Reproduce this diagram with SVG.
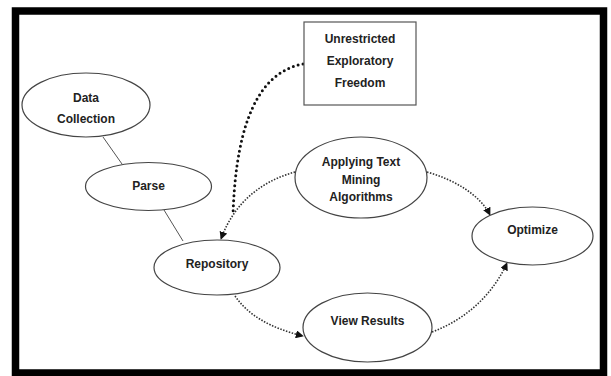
<svg xmlns="http://www.w3.org/2000/svg" width="611" height="376" viewBox="0 0 611 376">
<style>
.node ellipse{fill:#fff;stroke:#444;stroke-width:1.2}
.node rect{fill:#fff;stroke:#555;stroke-width:1.2}
text{font-family:"Liberation Sans",Arial,sans-serif;font-weight:bold;fill:#222;text-anchor:middle;font-size:12px}
.solid{fill:none;stroke:#555;stroke-width:1}
.dot{fill:none;stroke:#333;stroke-width:1.6;stroke-dasharray:1.5 1.5}
.thick{fill:none;stroke:#111;stroke-width:3;stroke-dasharray:0 5;stroke-linecap:round}
</style>
<defs>
<marker id="ah" viewBox="0 0 10 10" refX="9" refY="5" markerWidth="8" markerHeight="8" markerUnits="userSpaceOnUse" orient="auto">
<path d="M0,0 L10,5 L0,10 z" fill="#111"/>
</marker>
</defs>
<rect x="15.5" y="11" width="588" height="362" fill="#fff" stroke="#000" stroke-width="7.5"/>
<g id="connectors">
<line class="solid" x1="103" y1="137" x2="122" y2="164"/>
<line class="solid" x1="164" y1="210" x2="183" y2="241"/>
<path class="thick" d="M303,64 C260,72 236,120 233,215"/>
<path class="dot" d="M295,172 C265,180 235,200 221,239" marker-end="url(#ah)"/>
<path class="dot" d="M427,172 C455,180 480,195 490,215" marker-end="url(#ah)"/>
<path class="dot" d="M432,332 C470,318 495,290 507,263" marker-end="url(#ah)"/>
<path class="dot" d="M235,296 C248,315 270,328 303,336" marker-end="url(#ah)"/>
</g>
<g id="freedom" class="node">
<rect x="304" y="22" width="112" height="83"/>
<text x="360" y="43" font-size="12.5">Unrestricted</text>
<text x="360" y="65" font-size="12.5">Exploratory</text>
<text x="360" y="87" font-size="12.5">Freedom</text>
</g>
<g id="data-collection" class="node">
<ellipse cx="86" cy="105" rx="64" ry="32"/>
<text x="86" y="102">Data</text>
<text x="86" y="123">Collection</text>
</g>
<g id="parse" class="node">
<ellipse cx="148.5" cy="186.5" rx="63" ry="24"/>
<text x="148.5" y="190">Parse</text>
</g>
<g id="repository" class="node">
<ellipse cx="217" cy="267.5" rx="63" ry="27.5"/>
<text x="217" y="268">Repository</text>
</g>
<g id="applying" class="node">
<ellipse cx="361" cy="177.5" rx="66" ry="40.5"/>
<text x="361" y="166" font-size="11">Applying Text</text>
<text x="361" y="184" font-size="11">Mining</text>
<text x="361" y="201" font-size="11">Algorithms</text>
</g>
<g id="optimize" class="node">
<ellipse cx="532.5" cy="236" rx="60.5" ry="29"/>
<text x="532.5" y="234" font-size="12.5">Optimize</text>
</g>
<g id="view-results" class="node">
<ellipse cx="367.5" cy="327.5" rx="64.5" ry="34.5"/>
<text x="367.5" y="325" font-size="12.5">View Results</text>
</g>
</svg>
